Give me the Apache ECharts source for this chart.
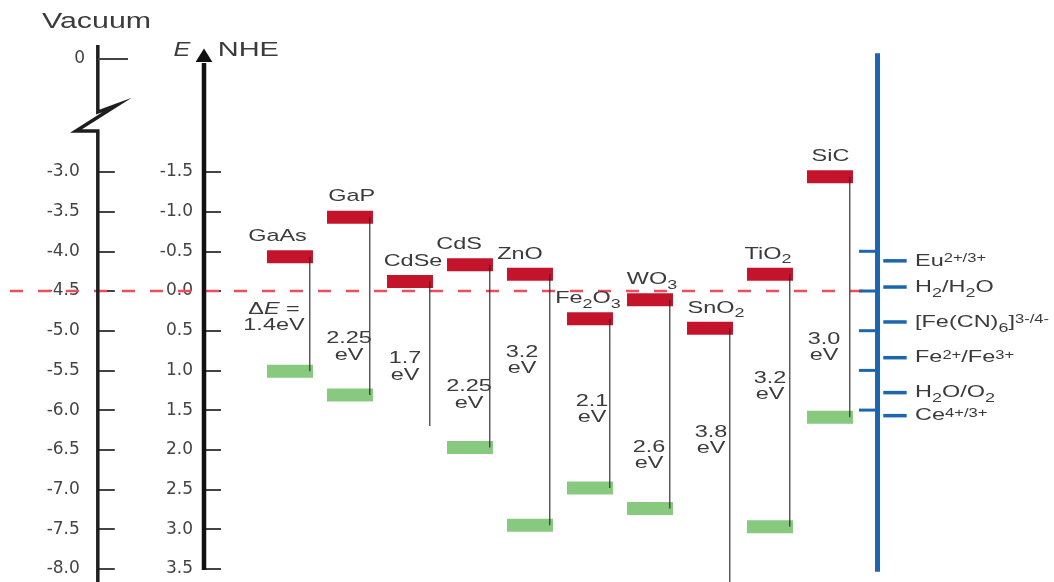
<!DOCTYPE html>
<html>
<head>
<meta charset="utf-8">
<script src="https://cdn.jsdelivr.net/npm/echarts@6/dist/echarts.min.js"></script>
<style>html,body{margin:0;padding:0;background:#fff}#chart{width:1054px;height:582px}</style>
</head>
<body>
<div id="chart"></div>
<script>
// ---------- data (potentials in V vs NHE; vacuum energy scale = -4.5 eV - NHE potential) ----------
const semiconductors   = ['GaAs', 'GaP', 'CdSe', 'CdS', 'ZnO', 'Fe2O3', 'WO3', 'SnO2', 'TiO2', 'SiC'];
const conductionBand   = [-0.43, -0.93, -0.12, -0.33, -0.21, 0.35, 0.11, 0.47, -0.21, -1.44];
const valenceBand      = [1.01, 1.31, 1.70, 1.97, 2.95, 2.48, 2.74, 4.27, 2.97, 1.59];
const valenceBandShown = [true, true, false, true, true, true, true, true, true, true];
const bandGaps         = ['1.4', '2.25', '1.7', '2.25', '3.2', '2.1', '2.6', '3.8', '3.2', '3.0'];
const nheTicks         = [-1.5, -1.0, -0.5, 0, 0.5, 1.0, 1.5, 2.0, 2.5, 3.0, 3.5];
const vacuumTicks      = [-8.0, -7.5, -7.0, -6.5, -6.0, -5.5, -5.0, -4.5, -4.0, -3.5, -3.0];
const redoxCouples     = ['Eu2+/3+', 'H2/H2O', '[Fe(CN)6]3-/4-', 'Fe2+/Fe3+', 'H2O/O2', 'Ce4+/3+'];
const redoxPotentials  = [-0.38, -0.05, 0.39, 0.84, 1.28, 1.57];
const redoxScaleTicks  = [-0.5, 0, 0.5, 1.0, 1.5];
const hydrogenLevel    = 0;   // H2/H2O reference, 0 V vs NHE
const vacuumAtNHEZero  = -4.5;

// ---------- layout (data units of the hidden axes) ----------
const L = {
  xMin: -1.4333, xMax: 12.7333, yMin: -3.665, yMax: 3.665,
  vacOffset: 106.2,
  vacLine: [[-3.203,-3.098],[-3.203,-2.254],[-2.883,-2.343],[-3.567,-2.015],[-3.203,-2.015],[-3.203,3.9]],
  vacZero: { y: -2.922, x1: -3.203, x2: -2.70, labelX: -3.417 },
  nhe: { x: -1.4333, tip: -3.054, base: -2.884, bottom: 3.514, half: 0.14 },
  blue: { x: 9.792, top: -2.994, bottom: 3.535, tickX: 9.483, m1: 9.888, m2: 10.278, labelX: 10.417 },
  zeroLine: [-4.667, 9.783],
  barHalfW: 0.383, barHalfH: 0.082, connDx: 0.33,
  nameDy: -0.258,
  nameDx: [-0.208, 0.028, 0.05, -0.183, -0.167, -0.033, 0.033, 0.1, -0.033, 0.008],
  gapPos: [[-0.267,0.334],[-0.017,0.705],[-0.083,0.957],[-0.017,1.31],[-0.133,0.87],[0.033,1.49],[-0.017,2.07],[0.017,1.88],[0,1.2],[-0.1,0.71]],
  vacuumTitle: [-3.225, -3.394], eTitle: [-1.8, -3.035], nheTitle: [-0.695, -3.035]
};

// ---------- styles ----------
const FAM = '"Liberation Sans", Arial, sans-serif';
const TXT = '#3b3b3b';
const SX = 1.38;
const RED = '#c4142c', GREEN = '#86c97f', BLUE = '#1c66b0';

function rich(lh) {
  return {
    n: { font: '17px ' + FAM, fill: TXT, lineHeight: lh },
    i: { font: 'italic 17px ' + FAM, fill: TXT, lineHeight: lh },
    b: { font: '13px ' + FAM, fill: TXT, lineHeight: lh, height: 12, verticalAlign: 'bottom' },
    p: { font: '12px ' + FAM, fill: TXT, lineHeight: lh, height: 20, verticalAlign: 'top' }
  };
}
function chem(s) {
  return s.replace(/(\d[+\-](?:\/\d[+\-])?)|(\d+)|([^\d]+)/g, function (m, charge, sub, plain) {
    if (charge) return '{p|' + charge + '}';
    if (sub) return '{b|' + sub + '}';
    return '{n|' + plain + '}';
  });
}
function txt(pt, text, o) {
  o = o || {};
  return {
    type: 'text', x: pt[0], y: pt[1], scaleX: o.sx || SX,
    style: {
      legacy: false, text: text, x: 0, y: 0,
      align: o.align || 'center', verticalAlign: 'middle',
      font: o.font || ('17px ' + FAM), fill: TXT, rich: o.rich || rich(24)
    }
  };
}

const chart = echarts.init(document.getElementById('chart'));

const axisLabelStyle = { fontFamily: '"DejaVu Sans", sans-serif', fontSize: 17, color: '#444' };

chart.setOption({
  backgroundColor: '#fff',
  animation: false,
  grid: { left: 204, right: 0, top: 0, bottom: 0, containLabel: false },
  xAxis: { type: 'value', min: L.xMin, max: L.xMax, show: false },
  yAxis: [
    {
      type: 'value', min: L.yMin, max: L.yMax, inverse: true, position: 'left',
      axisLine: { show: false, onZero: false }, splitLine: { show: false },
      axisTick: { show: true, inside: true, length: 17, customValues: nheTicks, lineStyle: { color: '#444', width: 2 } },
      axisLabel: Object.assign({ show: true, margin: 11, customValues: nheTicks,
        formatter: v => Math.abs(v).toFixed(1) === '0.0' ? '0.0' : v.toFixed(1) }, axisLabelStyle)
    },
    {
      type: 'value', min: vacuumAtNHEZero - L.yMax, max: vacuumAtNHEZero - L.yMin, inverse: false,
      position: 'left', offset: L.vacOffset,
      axisLine: { show: false, onZero: false }, splitLine: { show: false },
      axisTick: { show: true, inside: true, length: 17, customValues: vacuumTicks, lineStyle: { color: '#444', width: 2 } },
      axisLabel: Object.assign({ show: true, margin: 18, customValues: vacuumTicks,
        formatter: v => v.toFixed(1) }, axisLabelStyle)
    }
  ],
  series: [
    // dashed H2/H2O (0 V NHE) level
    {
      type: 'custom', clip: false, silent: true, z: 1, data: [hydrogenLevel],
      renderItem: function (p, api) {
        const a = api.coord([L.zeroLine[0], api.value(0)]), b = api.coord([L.zeroLine[1], api.value(0)]);
        return { type: 'line', shape: { x1: a[0], y1: a[1], x2: b[0], y2: b[1] },
          style: { stroke: '#ec4f5c', lineWidth: 2.5, lineDash: [13, 15] } };
      }
    },
    // axes decorations (vacuum axis with break, NHE arrow axis, redox scale)
    {
      type: 'custom', clip: false, silent: true, z: 2, data: [0],
      renderItem: function (p, api) {
        const c = [];
        const vp = L.vacLine.map(q => api.coord(q));
        c.push({ type: 'polyline', shape: { points: vp }, style: { fill: null, stroke: '#1e1e1e', lineWidth: 3.5, lineJoin: 'miter' } });
        const z1 = api.coord([L.vacZero.x1, L.vacZero.y]), z2 = api.coord([L.vacZero.x2, L.vacZero.y]);
        c.push({ type: 'line', shape: { x1: z1[0], y1: z1[1], x2: z2[0], y2: z2[1] }, style: { stroke: '#444', lineWidth: 2 } });
        const zl = api.coord([L.vacZero.labelX, L.vacZero.y]);
        c.push({ type: 'text', x: zl[0], y: zl[1], style: { legacy: false, text: '0', x: 0, y: 0, align: 'right', verticalAlign: 'middle',
          font: '17px "DejaVu Sans", sans-serif', fill: '#444' } });
        const nb = api.coord([L.nhe.x, L.nhe.bottom]), nbase = api.coord([L.nhe.x, L.nhe.base]);
        c.push({ type: 'line', shape: { x1: nb[0], y1: nb[1], x2: nbase[0], y2: nbase[1] + 1 }, style: { stroke: '#111', lineWidth: 4.5 } });
        const tip = api.coord([L.nhe.x, L.nhe.tip]);
        const bl = api.coord([L.nhe.x - L.nhe.half, L.nhe.base]), br = api.coord([L.nhe.x + L.nhe.half, L.nhe.base]);
        c.push({ type: 'polygon', shape: { points: [tip, br, bl] }, style: { fill: '#111' } });
        const bt = api.coord([L.blue.x, L.blue.top]), bb = api.coord([L.blue.x, L.blue.bottom]);
        c.push({ type: 'line', shape: { x1: bt[0], y1: bt[1], x2: bb[0], y2: bb[1] }, style: { stroke: BLUE, lineWidth: 5 } });
        c.push(txt(api.coord(L.vacuumTitle), 'Vacuum', { font: '22px ' + FAM }));
        c.push(txt(api.coord(L.eTitle), 'E', { font: 'italic 21px ' + FAM, sx: 1.2 }));
        c.push(txt(api.coord(L.nheTitle), 'NHE', { font: '21px ' + FAM }));
        return { type: 'group', children: c };
      }
    },
    // redox scale ticks on the blue axis
    {
      type: 'custom', clip: false, silent: true, z: 2, data: redoxScaleTicks,
      renderItem: function (p, api) {
        const a = api.coord([L.blue.tickX, api.value(0)]), b = api.coord([L.blue.x, api.value(0)]);
        return { type: 'line', shape: { x1: a[0], y1: a[1], x2: b[0], y2: b[1] }, style: { stroke: BLUE, lineWidth: 3 } };
      }
    },
    // redox couples
    {
      type: 'custom', clip: false, silent: true, z: 3, data: redoxPotentials.map((v, i) => [i, v]),
      renderItem: function (p, api) {
        const v = api.value(1);
        const a = api.coord([L.blue.m1, v]), b = api.coord([L.blue.m2, v]);
        const lp = api.coord([L.blue.labelX, v]);
        return { type: 'group', children: [
          { type: 'line', shape: { x1: a[0], y1: a[1], x2: b[0], y2: b[1] }, style: { stroke: BLUE, lineWidth: 3.5 } },
          txt(lp, chem(redoxCouples[p.dataIndex]), { align: 'left' })
        ] };
      }
    },
    // band edges + connectors
    {
      type: 'custom', clip: false, silent: true, z: 3,
      data: semiconductors.map((n, i) => [i, conductionBand[i], valenceBand[i]]),
      renderItem: function (p, api) {
        const x = api.value(0), cb = api.value(1), vb = api.value(2);
        const c = [];
        function bar(y, color) {
          const tl = api.coord([x - L.barHalfW, y - L.barHalfH]), br = api.coord([x + L.barHalfW, y + L.barHalfH]);
          return { type: 'rect', shape: { x: tl[0], y: Math.min(tl[1], br[1]), width: br[0] - tl[0], height: Math.abs(br[1] - tl[1]) }, style: { fill: color } };
        }
        c.push(bar(cb, RED));
        if (valenceBandShown[p.dataIndex]) c.push(bar(vb, GREEN));
        const t = api.coord([x + L.connDx, cb]), b = api.coord([x + L.connDx, vb]);
        c.push({ type: 'line', shape: { x1: t[0], y1: t[1], x2: b[0], y2: b[1] }, style: { stroke: '#222', lineWidth: 1.1 } });
        return { type: 'group', children: c };
      }
    },
    // labels: names and band gaps
    {
      type: 'custom', clip: false, silent: true, z: 4,
      data: semiconductors.map((n, i) => [i, conductionBand[i]]),
      renderItem: function (p, api) {
        const i = p.dataIndex, x = api.value(0), cb = api.value(1);
        const np = api.coord([x + L.nameDx[i], cb + L.nameDy]);
        const gp = api.coord([x + L.gapPos[i][0], L.gapPos[i][1]]);
        const gapText = i === 0 ? '{n|\u0394}{i|E}{n| =}\n{n|' + bandGaps[i] + 'eV}' : '{n|' + bandGaps[i] + '}\n{n|eV}';
        return { type: 'group', children: [
          txt(np, chem(semiconductors[i])),
          txt(gp, gapText, { rich: rich(16.5) })
        ] };
      }
    }
  ]
});
</script>
</body>
</html>
